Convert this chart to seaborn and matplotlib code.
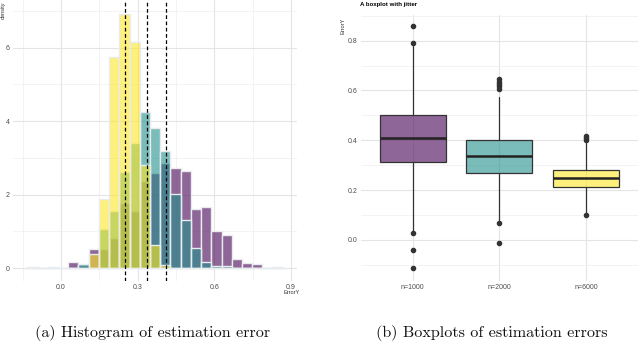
import numpy as np
import pandas as pd
import matplotlib
matplotlib.use("Agg")
import matplotlib.pyplot as plt
from matplotlib.ticker import FixedLocator
import seaborn as sns

# ---------------- data ----------------
groups = ["n=1000", "n=2000", "n=6000"]
colors = ["#440154", "#21908C", "#FDE725"]

bin_start = -0.132
bin_width = 0.04
# density per bin (25 bins, left edge = bin_start + k*bin_width)
dens_1000 = [0.02, 0.0, 0.02, 0.0, 0.15, 0.08, 0.53, 0.53, 0.83, 1.76, 1.56, 2.36, 2.58,
             2.87, 2.73, 2.65, 1.60, 1.65, 1.00, 0.89, 0.25, 0.13, 0.10, 0.0, 0.03]
dens_2000 = [0.0, 0.0, 0.0, 0.0, 0.0, 0.10, 0.0, 1.05, 1.56, 2.62, 3.40, 4.25, 3.80,
             3.20, 2.02, 1.30, 0.55, 0.17, 0.06, 0.06, 0.0, 0.0, 0.0, 0.0, 0.0]
dens_6000 = [0.0, 0.0, 0.0, 0.0, 0.0, 0.0, 0.38, 1.89, 5.75, 6.93, 6.16, 2.81, 0.62,
             0.08, 0.0, 0.0, 0.0, 0.0, 0.0, 0.0, 0.0, 0.0, 0.0, 0.0, 0.0]
means = [0.411, 0.338, 0.250]

# boxplot statistics
q1 = [0.312, 0.270, 0.211]
med = [0.408, 0.336, 0.247]
q3 = [0.502, 0.400, 0.282]
whis_lo = [0.035, 0.080, 0.105]
whis_hi = [0.780, 0.575, 0.388]
fliers = [[0.859, 0.789, 0.027, -0.040, -0.114],
          [0.647, 0.635, 0.626, 0.618, 0.605, 0.070, -0.011],
          [0.419, 0.409, 0.401, 0.100]]

hist_xticks = [0.0, 0.3, 0.6, 0.9]
hist_yticks = [0, 2, 4, 6]
box_yticks = [0.0, 0.2, 0.4, 0.6, 0.8]

# ---------------- style ----------------
sns.set_theme(style="white")
plt.rcParams["font.family"] = ["Liberation Sans", "DejaVu Sans"]

W, H = 640, 345
fig = plt.figure(figsize=(W / 100, H / 100), dpi=100)

def frac(x0, y0, x1, y1):
    return [x0 / W, 1 - y1 / H, (x1 - x0) / W, (y1 - y0) / H]

grid_major = dict(color="#e4e4e4", linewidth=0.8)
grid_minor = dict(color="#efefef", linewidth=0.5)
tick_col = "#4d4d4d"

def clean(ax):
    for s in ax.spines.values():
        s.set_visible(False)
    ax.tick_params(length=0, labelsize=5, colors=tick_col, pad=2.5)
    ax.tick_params(which="minor", length=0)
    ax.set_axisbelow(True)

# ---------------- left: histogram ----------------
ax1 = fig.add_axes(frac(13, 0, 297, 281))
edges = [bin_start + bin_width * k for k in range(len(dens_1000) + 1)]
centers = [e + bin_width / 2 for e in edges[:-1]]
for g, d, c in zip(groups, [dens_1000, dens_2000, dens_6000], colors):
    df = pd.DataFrame({"ErrorY": centers, "density": d})
    sns.histplot(data=df, x="ErrorY", weights="density", bins=edges, ax=ax1,
                 color=c, alpha=0.6, edgecolor="#e9ecef", linewidth=1.0)
for m in means:
    ax1.axvline(m, color="black", linestyle=(0, (3, 2)), linewidth=0.9)
ax1.set_xlim(-0.188, 0.923)
ax1.set_ylim(-0.354, 7.30)
ax1.xaxis.set_major_locator(FixedLocator(hist_xticks))
ax1.xaxis.set_minor_locator(FixedLocator([-0.15, 0.15, 0.45, 0.75]))
ax1.yaxis.set_major_locator(FixedLocator(hist_yticks))
ax1.yaxis.set_minor_locator(FixedLocator([1, 3, 5, 7]))
ax1.set_xticklabels([f"{t:.1f}" for t in hist_xticks])
ax1.set_yticklabels([str(t) for t in hist_yticks])
ax1.grid(True, which="major", **grid_major)
ax1.grid(True, which="minor", **grid_minor)
clean(ax1)
ax1.set_xlabel("")
ax1.set_ylabel("")
fig.text(292 / W, 1 - 293 / H, "ErrorY", fontsize=4, color="#333333",
         ha="center", va="center")
fig.text(3.5 / W, 1 - 1.5 / H, "density", fontsize=4, color="#333333",
         rotation=90, ha="center", va="top")

# ---------------- right: boxplot ----------------
ax2 = fig.add_axes(frac(360.7, 15, 638, 280.6))
stats = []
for i in range(3):
    stats.append(dict(label=groups[i], q1=q1[i], med=med[i], q3=q3[i],
                      whislo=whis_lo[i], whishi=whis_hi[i], fliers=fliers[i]))
bp = ax2.bxp(stats, positions=[0, 1, 2], widths=0.76, patch_artist=True,
             showcaps=False,
             boxprops=dict(edgecolor="#333333", linewidth=0.9),
             whiskerprops=dict(color="#333333", linewidth=0.9),
             medianprops=dict(color="#222222", linewidth=1.8),
             flierprops=dict(marker="o", markersize=3.0, markerfacecolor="#333333",
                             markeredgecolor="#333333", linestyle="none"))
for patch, c in zip(bp["boxes"], colors):
    patch.set_facecolor(matplotlib.colors.to_rgba(c, 0.6))
ax2.set_xlim(-0.6, 2.6)
ax2.set_ylim(-0.163, 0.903)
ax2.set_xticks([0, 1, 2])
ax2.set_xticklabels(groups)
ax2.yaxis.set_major_locator(FixedLocator(box_yticks))
ax2.yaxis.set_minor_locator(FixedLocator([-0.1, 0.1, 0.3, 0.5, 0.7, 0.9]))
ax2.set_yticklabels([f"{t:.1f}" for t in box_yticks])
ax2.grid(True, which="major", **grid_major)
ax2.grid(True, which="minor", axis="y", **grid_minor)
clean(ax2)
ax2.set_ylabel("")
fig.text(343 / W, 1 - 18 / H, "ErrorY", fontsize=4, color="#333333",
         rotation=90, ha="center", va="top")
fig.text(360 / W, 1 - 4.5 / H, "A boxplot with jitter", fontsize=4.4,
         fontweight="bold", ha="left", va="center", color="black")

# ---------------- captions ----------------
fig.text(0.238, 0.035, "(a) Histogram of estimation error", family="cmr10",
         fontsize=11.6, ha="center", va="center", color="#111111")
fig.text(0.768, 0.035, "(b) Boxplots of estimation errors", family="cmr10",
         fontsize=11.6, ha="center", va="center", color="#111111")

fig.savefig("out.png", dpi=100, facecolor="white")
